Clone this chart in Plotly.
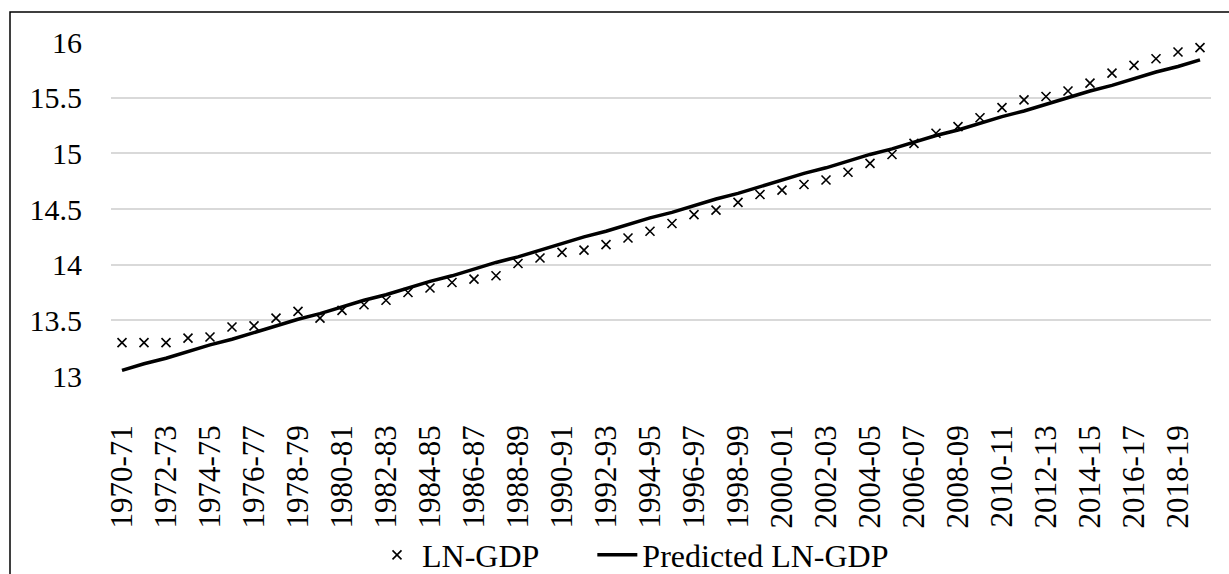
import plotly.graph_objects as go

years = ["1970-71", "1971-72", "1972-73", "1973-74", "1974-75", "1975-76", "1976-77", "1977-78",
         "1978-79", "1979-80", "1980-81", "1981-82", "1982-83", "1983-84", "1984-85", "1985-86",
         "1986-87", "1987-88", "1988-89", "1989-90", "1990-91", "1991-92", "1992-93", "1993-94",
         "1994-95", "1995-96", "1996-97", "1997-98", "1998-99", "1999-00", "2000-01", "2001-02",
         "2002-03", "2003-04", "2004-05", "2005-06", "2006-07", "2007-08", "2008-09", "2009-10",
         "2010-11", "2011-12", "2012-13", "2013-14", "2014-15", "2015-16", "2016-17", "2017-18",
         "2018-19", "2019-20"]

ln_gdp = [13.30, 13.30, 13.30, 13.34, 13.35, 13.44, 13.45, 13.52, 13.58, 13.52,
          13.59, 13.64, 13.68, 13.75, 13.79, 13.84, 13.87, 13.90, 14.01, 14.06,
          14.11, 14.13, 14.18, 14.24, 14.30, 14.37, 14.45, 14.49, 14.56, 14.63,
          14.67, 14.72, 14.76, 14.83, 14.91, 14.99, 15.09, 15.18, 15.24, 15.32,
          15.41, 15.48, 15.51, 15.56, 15.63, 15.72, 15.79, 15.85, 15.91, 15.95]

predicted = [13.05, 13.11, 13.16, 13.22, 13.28, 13.33, 13.39, 13.45, 13.51, 13.56,
             13.62, 13.68, 13.73, 13.79, 13.85, 13.90, 13.96, 14.02, 14.07, 14.13,
             14.19, 14.25, 14.30, 14.36, 14.42, 14.47, 14.53, 14.59, 14.64, 14.70,
             14.76, 14.82, 14.87, 14.93, 14.99, 15.04, 15.10, 15.16, 15.21, 15.27,
             15.33, 15.38, 15.44, 15.50, 15.56, 15.61, 15.67, 15.73, 15.78, 15.84]

shown_ticks = years[::2]
y_ticks = [13, 13.5, 14, 14.5, 15, 15.5, 16]
y_labels = ["13", "13.5", "14", "14.5", "15", "15.5", "16"]

FONT = "Times New Roman, Liberation Serif, Tinos, DejaVu Serif, serif"

fig = go.Figure()
fig.add_trace(go.Scatter(
    x=years, y=ln_gdp, mode="markers", name="LN-GDP" + "\u00a0" * 6,
    marker=dict(symbol="x-thin", size=9, color="black",
                line=dict(color="black", width=1.6)),
))
fig.add_trace(go.Scatter(
    x=years, y=predicted, mode="lines", name="Predicted LN-GDP",
    line=dict(color="black", width=3.5),
))

fig.update_layout(
    width=1229, height=574,
    margin=dict(l=111, r=18, t=42, b=198, autoexpand=False),
    paper_bgcolor="white", plot_bgcolor="white",
    font=dict(family=FONT, size=30, color="black"),
    showlegend=True,
    legend=dict(orientation="h", x=(372 - 111) / 1100, xanchor="left",
                y=-0.536, yanchor="middle",
                font=dict(family=FONT, size=32, color="black"),
                bgcolor="rgba(0,0,0,0)", itemwidth=40, tracegroupgap=0),
    xaxis=dict(
        type="category", range=[-0.5, 49.5], automargin=False,
        tickmode="array", tickvals=shown_ticks, ticktext=shown_ticks,
        tickangle=-90, showgrid=False, showline=False, zeroline=False,
        ticks="", ticklabelstandoff=42,
        tickfont=dict(family=FONT, size=31, color="black"),
    ),
    yaxis=dict(
        range=[13, 16], tickmode="array", tickvals=y_ticks, ticktext=y_labels,
        automargin=False,
        showgrid=True, gridcolor="#d9d9d9", gridwidth=1.5,
        showline=False, zeroline=False, ticks="", ticklabelstandoff=28,
        tickfont=dict(family=FONT, size=30, color="black"),
    ),
    shapes=[dict(type="rect", xref="paper", yref="paper",
                 x0=(10 - 111) / 1100, x1=1.2, y0=-1.0, y1=(376 - 12) / 334,
                 line=dict(color="black", width=1.5), fillcolor="rgba(0,0,0,0)",
                 layer="below")],
)

fig.write_html("out.html", config={"displayModeBar": False},
               post_script="document.body.style.margin='0';")
